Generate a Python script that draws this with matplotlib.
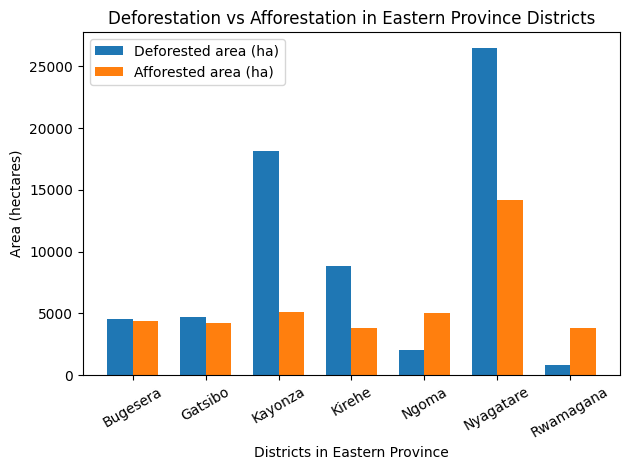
import matplotlib
matplotlib.use("Agg")
import matplotlib.pyplot as plt
import numpy as np

districts = ["Bugesera", "Gatsibo", "Kayonza", "Kirehe", "Ngoma", "Nyagatare", "Rwamagana"]
deforested = [4545, 4708, 18182, 8847, 2029, 26461, 812]
afforested = [4383, 4221, 5114, 3815, 5032, 14205, 3815]

fig, ax = plt.subplots(figsize=(6.3, 4.7), dpi=100)
x = np.arange(len(districts))
w = 0.35
ax.bar(x - w/2, deforested, w, label="Deforested area (ha)", color="#1f77b4")
ax.bar(x + w/2, afforested, w, label="Afforested area (ha)", color="#ff7f0e")
ax.set_xticks(x)
ax.set_xticklabels(districts, rotation=30)
ax.set_xlabel("Districts in Eastern Province")
ax.set_ylabel("Area (hectares)")
ax.set_title("Deforestation vs Afforestation in Eastern Province Districts")
ax.legend(loc="upper left")
fig.subplots_adjust(left=0.1317, right=0.984, top=0.932, bottom=0.202)
fig.savefig("out.png")
